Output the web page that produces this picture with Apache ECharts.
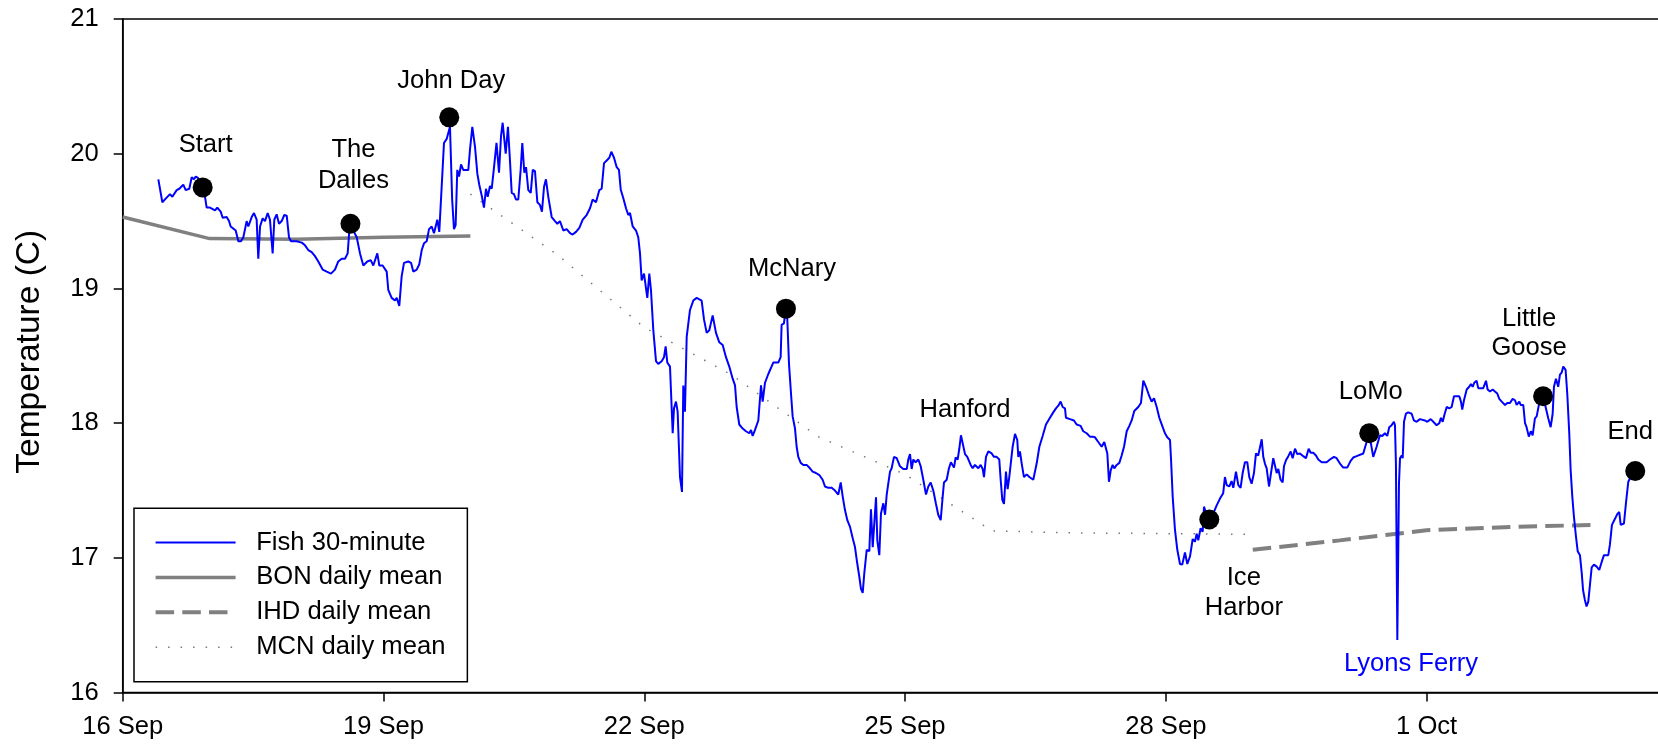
<!DOCTYPE html>
<html><head><meta charset="utf-8">
<script src="https://cdn.jsdelivr.net/npm/echarts@6/dist/echarts.min.js"></script>
<style>html,body{margin:0;padding:0;background:#fff}#c{width:1658px;height:748px}</style>
</head><body><div id="c"></div><script>
// x values are days after 16 Sep 00:00
const tickLabels = ['16 Sep', '19 Sep', '22 Sep', '25 Sep', '28 Sep', '1 Oct'];

const fishSeries = [
[0.41,19.81],[0.456,19.64],[0.50,19.67],[0.544,19.70],[0.571,19.68],[0.621,19.73],[0.651,19.74],[0.697,19.77],[0.725,19.73],[0.766,19.74],[0.794,19.825],[0.82,19.81],[0.84,19.83],[0.866,19.82],[0.935,19.73],[0.966,19.60],[1.004,19.60],[1.062,19.58],[1.088,19.60],[1.127,19.57],[1.15,19.525],[1.196,19.53],[1.223,19.50],[1.242,19.46],[1.265,19.47],[1.30,19.43],[1.33,19.35],[1.361,19.35],[1.388,19.38],[1.426,19.50],[1.445,19.46],[1.484,19.53],[1.51,19.56],[1.541,19.51],[1.56,19.22],[1.58,19.46],[1.61,19.52],[1.637,19.50],[1.668,19.56],[1.694,19.51],[1.725,19.26],[1.744,19.51],[1.771,19.55],[1.798,19.48],[1.829,19.50],[1.859,19.545],[1.887,19.54],[1.913,19.38],[1.936,19.35],[2.0,19.35],[2.06,19.34],[2.097,19.32],[2.135,19.285],[2.174,19.27],[2.212,19.24],[2.25,19.20],[2.30,19.14],[2.347,19.125],[2.396,19.11],[2.442,19.14],[2.48,19.20],[2.519,19.22],[2.557,19.22],[2.588,19.26],[2.607,19.43],[2.661,19.42],[2.692,19.38],[2.73,19.26],[2.768,19.17],[2.814,19.20],[2.853,19.21],[2.883,19.17],[2.929,19.26],[2.952,19.17],[2.99,19.17],[3.037,19.125],[3.055,18.99],[3.094,18.93],[3.132,18.91],[3.152,18.93],[3.182,18.87],[3.209,19.09],[3.236,19.19],[3.285,19.20],[3.317,19.19],[3.343,19.125],[3.382,19.14],[3.412,19.18],[3.44,19.285],[3.466,19.335],[3.497,19.35],[3.524,19.44],[3.555,19.46],[3.581,19.41],[3.60,19.46],[3.619,19.51],[3.642,19.42],
[3.696,20.08],[3.727,20.11],[3.765,20.20],[3.79,19.66],[3.811,19.44],[3.83,19.47],[3.849,19.88],[3.869,19.83],[3.892,19.92],[3.918,19.88],[3.976,19.88],[3.995,20.03],[4.022,20.20],[4.053,20.05],[4.08,19.85],[4.102,19.77],[4.13,19.69],[4.156,19.60],[4.179,19.74],[4.199,19.68],[4.225,19.76],[4.245,19.74],[4.27,19.89],[4.30,20.08],[4.329,19.86],[4.352,20.13],[4.371,20.23],[4.406,20.00],[4.432,20.20],[4.455,19.95],[4.475,19.71],[4.501,19.70],[4.524,19.66],[4.551,19.66],[4.578,19.88],[4.597,20.08],[4.62,19.86],[4.64,19.90],[4.666,19.73],[4.694,19.71],[4.717,19.88],[4.743,19.87],[4.77,19.64],[4.80,19.62],[4.823,19.57],[4.847,19.755],[4.869,19.81],[4.896,19.68],[4.935,19.53],[4.973,19.50],[5.0,19.48],[5.03,19.50],[5.069,19.43],[5.107,19.44],[5.146,19.41],[5.176,19.40],[5.215,19.42],[5.253,19.45],[5.292,19.51],[5.337,19.545],[5.376,19.595],[5.406,19.66],[5.445,19.64],[5.483,19.73],[5.51,19.74],[5.537,19.93],[5.568,19.95],[5.598,19.97],[5.621,20.015],[5.652,19.97],[5.683,19.90],[5.709,19.88],[5.729,19.735],[5.759,19.67],[5.79,19.595],[5.816,19.545],[5.836,19.56],[5.867,19.46],[5.905,19.43],[5.931,19.38],[5.951,19.26],[5.97,19.06],[5.997,19.11],[6.02,19.11],[6.035,18.93],[6.058,19.11],[6.077,18.99],[6.104,18.69],[6.135,18.46],[6.161,18.44],[6.20,18.46],[6.227,18.49],[6.246,18.57],[6.265,18.45],[6.296,18.42],[6.327,17.925],[6.342,18.11],[6.365,18.16],[6.384,18.085],[6.411,17.60],[6.434,17.49],[6.449,18.28],[6.468,18.085],[6.488,18.64],[6.526,18.84],[6.564,18.91],[6.603,18.93],[6.66,18.91],[6.687,18.77],[6.718,18.67],[6.748,18.69],[6.787,18.80],[6.825,18.67],[6.863,18.60],[6.902,18.58],[6.94,18.49],[6.978,18.42],[7.017,18.33],[7.044,18.28],[7.063,18.12],[7.093,17.99],[7.132,17.96],[7.17,17.94],[7.208,17.925],[7.228,17.95],[7.247,17.905],[7.274,17.95],[7.312,18.02],[7.343,18.28],[7.362,18.16],[7.389,18.30],[7.427,18.365],
[7.484,18.45],[7.542,18.45],[7.569,18.49],[7.58,18.73],[7.607,18.74],[7.622,18.82],[7.645,18.78],[7.665,18.44],[7.688,18.22],[7.707,18.05],[7.734,17.96],[7.753,17.825],[7.772,17.75],[7.80,17.705],[7.83,17.69],[7.868,17.69],[7.906,17.665],[7.937,17.64],[7.975,17.63],[8.014,17.615],[8.052,17.58],[8.079,17.53],[8.117,17.52],[8.156,17.52],[8.194,17.50],[8.232,17.47],[8.26,17.56],[8.283,17.455],[8.309,17.355],[8.336,17.28],[8.367,17.23],[8.398,17.145],[8.424,17.08],[8.45,16.96],[8.474,16.86],[8.493,16.77],[8.513,16.74],[8.531,16.885],[8.559,17.06],[8.589,17.05],[8.608,17.36],[8.628,17.08],[8.646,17.08],[8.666,17.45],[8.681,17.13],[8.704,17.02],[8.723,17.33],[8.75,17.405],[8.77,17.32],[8.789,17.47],[8.807,17.47],[8.827,17.64],[8.846,17.665],[8.873,17.75],[8.904,17.74],[8.942,17.68],[8.98,17.66],[9.02,17.66],[9.037,17.73],[9.057,17.77],[9.076,17.66],[9.095,17.73],[9.122,17.71],[9.153,17.73],[9.18,17.68],[9.21,17.58],[9.241,17.47],[9.268,17.53],[9.295,17.56],[9.325,17.50],[9.356,17.40],[9.382,17.32],[9.41,17.28],[9.433,17.455],[9.448,17.56],[9.479,17.58],[9.505,17.665],[9.528,17.71],[9.548,17.70],[9.563,17.67],[9.582,17.745],[9.605,17.73],[9.624,17.81],[9.643,17.91],[9.663,17.91],[9.69,17.77],[9.716,17.75],[9.735,17.76],[9.755,17.69],[9.778,17.665],[9.804,17.69],[9.843,17.665],[9.87,17.69],[9.893,17.66],[9.908,17.60],[9.931,17.75],[9.958,17.79],[9.997,17.775],[10.023,17.75],[10.054,17.75],[10.084,17.73],[10.10,17.58],[10.119,17.43],[10.138,17.40],[10.161,17.64],[10.18,17.51],[10.199,17.60],[10.218,17.71],[10.238,17.825],[10.265,17.92],[10.291,17.875],[10.303,17.75],[10.322,17.79],[10.342,17.70],[10.368,17.60],[10.399,17.62],[10.43,17.60],[10.475,17.58],[10.495,17.58],[10.514,17.70],[10.545,17.825],[10.583,17.905],[10.621,17.99],[10.667,18.04],[10.705,18.08],[10.736,18.11],[10.763,18.13],[10.79,18.16],[10.813,18.12],[10.84,18.11],[10.851,18.04],[10.897,18.03],[10.943,18.02],[10.974,17.99],[11.02,17.98],[11.05,17.94],[11.089,17.925],[11.127,17.90],[11.158,17.90],[11.185,17.895],[11.223,17.86],[11.262,17.825],[11.292,17.86],[11.311,17.85],[11.327,17.775],[11.346,17.565],[11.366,17.65],[11.388,17.69],[11.407,17.665],[11.435,17.69],[11.465,17.705],[11.492,17.76],[11.519,17.825],[11.55,17.94],[11.58,17.98],
[11.607,18.02],[11.637,18.09],[11.683,18.12],[11.714,18.15],[11.741,18.315],[11.772,18.27],[11.81,18.20],[11.837,18.16],[11.864,18.185],[11.895,18.12],[11.925,18.04],[11.964,17.97],[11.99,17.925],[12.017,17.895],[12.048,17.875],[12.06,17.73],[12.079,17.455],[12.105,17.21],[12.132,17.06],[12.163,16.955],[12.189,16.95],[12.22,17.04],[12.247,16.955],[12.278,17.01],[12.309,17.14],[12.335,17.12],[12.355,17.18],[12.373,17.13],[12.40,17.22],[12.424,17.195],[12.439,17.38],[12.462,17.335],[12.50,17.29],[12.546,17.33],[12.585,17.39],[12.623,17.44],[12.66,17.48],[12.68,17.60],[12.70,17.54],[12.73,17.53],[12.757,17.57],[12.776,17.52],[12.807,17.64],[12.834,17.54],[12.86,17.52],[12.884,17.63],[12.91,17.71],[12.937,17.71],[12.96,17.60],[12.987,17.55],[13.014,17.63],[13.037,17.775],[13.063,17.76],[13.083,17.82],[13.103,17.88],[13.121,17.75],[13.14,17.70],[13.16,17.665],[13.187,17.53],[13.21,17.63],[13.236,17.74],[13.256,17.75],[13.275,17.63],[13.294,17.66],[13.32,17.58],[13.344,17.56],[13.359,17.68],[13.382,17.725],[13.409,17.755],[13.436,17.79],[13.459,17.74],[13.486,17.81],[13.512,17.77],[13.543,17.775],[13.581,17.755],[13.612,17.74],[13.643,17.81],[13.666,17.78],[13.696,17.78],[13.727,17.76],[13.754,17.73],[13.793,17.71],[13.85,17.71],[13.888,17.73],[13.934,17.75],[13.965,17.74],[14.003,17.70],[14.041,17.67],[14.087,17.67],[14.126,17.72],[14.156,17.745],[14.195,17.755],[14.214,17.76],[14.271,17.775],[14.31,17.86],[14.34,17.92],[14.386,17.75],[14.425,17.825],[14.463,17.91],[14.49,17.905],[14.52,17.925],[14.547,17.905],[14.57,17.97],[14.598,17.985],[14.624,18.01],[14.636,17.985],[14.647,17.70],[14.663,16.39],[14.682,17.55],[14.694,17.74],[14.713,17.76],[14.725,17.74],
[14.74,18.01],[14.762,18.07],[14.789,18.08],[14.828,18.07],[14.854,18.02],[14.885,18.01],[14.923,18.03],[14.98,18.02],[15.008,18.01],[15.047,18.03],[15.077,18.01],[15.115,17.985],[15.146,18.00],[15.165,18.04],[15.185,18.01],[15.204,18.06],[15.231,18.12],[15.261,18.11],[15.288,18.12],[15.315,18.20],[15.338,18.21],[15.376,18.20],[15.395,18.16],[15.41,18.10],[15.43,18.17],[15.461,18.25],[15.49,18.27],[15.51,18.29],[15.53,18.27],[15.548,18.30],[15.575,18.315],[15.594,18.26],[15.621,18.26],[15.652,18.26],[15.683,18.315],[15.702,18.25],[15.729,18.235],[15.76,18.25],[15.786,18.235],[15.813,18.22],[15.836,18.18],[15.864,18.16],[15.902,18.135],[15.928,18.15],[15.959,18.15],[15.99,18.18],[16.017,18.17],[16.036,18.135],[16.066,18.16],[16.082,18.135],[16.112,18.135],[16.132,18.00],[16.15,17.97],[16.176,17.90],[16.199,17.94],[16.22,17.91],[16.246,18.035],[16.266,18.05],[16.296,18.15],[16.34,18.20],[16.40,18.035],[16.427,17.97],[16.45,18.07],[16.465,18.27],[16.488,18.33],[16.514,18.27],[16.534,18.36],[16.553,18.375],[16.572,18.42],[16.599,18.395],[16.618,18.22],[16.641,17.925],[16.657,17.65],[16.676,17.455],[16.695,17.305],[16.718,17.16],[16.738,17.05],[16.764,17.02],[16.784,16.89],[16.80,16.76],[16.82,16.69],[16.84,16.64],[16.86,16.675],[16.879,16.80],[16.899,16.93],[16.925,16.95],[16.956,16.935],[16.986,16.91],[17.014,16.97],[17.04,17.02],[17.09,17.02],[17.109,17.10],[17.132,17.245],[17.167,17.29],[17.193,17.325],[17.216,17.34],[17.233,17.245],[17.27,17.255],[17.293,17.405],[17.32,17.565],[17.359,17.615],[17.40,17.645]
];

const bonDaily = [[0, 19.53], [1, 19.37], [2, 19.365], [3, 19.38], [4, 19.39]];
const mcnDaily = [[4, 19.70], [5, 19.25], [6, 18.71], [7, 18.36], [8, 17.90], [9, 17.62], [10, 17.20], [11, 17.185], [12, 17.18], [13, 17.175]];
const ihdDaily = [[13, 17.06], [14, 17.13], [15, 17.205], [16, 17.23], [16.92, 17.245]];

const stationNames = ['Start', 'The Dalles', 'John Day', 'McNary', 'Ice Harbor', 'LoMo', 'Little Goose', 'End'];
const stationDays = [0.92, 2.62, 3.757, 7.63, 12.50, 14.34, 16.34, 17.40];
const stationTemps = [19.75, 19.48, 20.27, 18.85, 17.285, 17.925, 18.20, 17.645];

const noteNames = ['Hanford', 'Lyons Ferry'];
const noteDays = [9.69, 14.82];
const noteTemps = [18.10, 16.215];

// ---- styling ----
const FONT = "'Liberation Sans', Arial, Helvetica, sans-serif";
const FS = 25.6;
const labelLayout = {
  'Start': { offset: [3, -42] },
  'The Dalles': { offset: [3, -58], text: 'The\nDalles', lh: 31 },
  'John Day': { offset: [2, -36] },
  'McNary': { offset: [6, -40] },
  'Ice Harbor': { offset: [34.5, 73], text: 'Ice\nHarbor', lh: 30 },
  'LoMo': { offset: [1.5, -41] },
  'Little Goose': { offset: [-14, -63], text: 'Little\nGoose', lh: 29.3 },
  'End': { offset: [-5, -39] }
};
const noteColors = { 'Hanford': '#000000', 'Lyons Ferry': '#0000FF' };

const stationItems = stationNames.map((n, i) => ({
  name: n,
  value: [stationDays[i], stationTemps[i]],
  label: { offset: labelLayout[n].offset, lineHeight: labelLayout[n].lh || FS }
}));
const noteItems = noteNames.map((n, i) => ({
  name: n,
  value: [noteDays[i], noteTemps[i]],
  label: { color: noteColors[n] }
}));

const chart = echarts.init(document.getElementById('c'), null, { renderer: 'canvas' });
chart.setOption({
  animation: false,
  backgroundColor: '#ffffff',
  textStyle: { fontFamily: FONT },
  grid: {
    left: 122.7, right: -40, top: 19, bottom: 55.4,
    show: true, borderColor: '#000', borderWidth: 1.5, backgroundColor: 'transparent',
    containLabel: false, outerBoundsMode: 'none'
  },
  legend: {
    data: ['Fish 30-minute', 'BON daily mean', 'IHD daily mean', 'MCN daily mean'],
    orient: 'vertical', left: 134, top: 508.3,
    padding: [21.2, 22, 21.5, 19.6],
    borderColor: '#000', borderWidth: 1.5, backgroundColor: '#fff',
    itemWidth: 80, itemHeight: 14, itemGap: 8.9,
    selectedMode: false,
    itemStyle: { opacity: 0 },
    lineStyle: { width: 'inherit', type: 'inherit', color: 'inherit' },
    textStyle: { fontSize: FS, color: '#000', fontFamily: FONT, lineHeight: FS, padding: [0, 0, 0, 15.6] }
  },
  xAxis: {
    type: 'value', min: 0, max: 18.122, interval: 3,
    axisLine: { show: true, lineStyle: { color: '#000', width: 1.5 } },
    axisTick: { show: true, length: 9, lineStyle: { color: '#000', width: 1.5 } },
    axisLabel: {
      fontSize: FS, color: '#000', fontFamily: FONT, margin: 21,
      formatter: v => { const k = Math.round(v / 3); return Math.abs(v - k * 3) < 1e-6 && tickLabels[k] ? tickLabels[k] : ''; }
    },
    splitLine: { show: false }
  },
  yAxis: {
    type: 'value', min: 16, max: 21, interval: 1,
    name: 'Temperature (C)', nameLocation: 'middle', nameGap: 76,
    nameTextStyle: { fontSize: 33.5, color: '#000', fontFamily: FONT, padding: [0, 0, 0, 8] },
    axisLine: { show: true, lineStyle: { color: '#000', width: 1.5 } },
    axisTick: { show: true, length: 9, lineStyle: { color: '#000', width: 1.5 } },
    axisLabel: { fontSize: FS, color: '#000', fontFamily: FONT, margin: 24 },
    splitLine: { show: false }
  },
  series: [
    { name: 'MCN daily mean', type: 'line', data: mcnDaily, symbol: 'none', z: 2,
      lineStyle: { color: '#777', width: 1.5, type: [1.5, 11] }, itemStyle: { color: '#777' } },
    { name: 'BON daily mean', type: 'line', data: bonDaily, symbol: 'none', z: 2,
      lineStyle: { color: '#808080', width: 3.5 }, itemStyle: { color: '#808080' } },
    { name: 'IHD daily mean', type: 'line', data: ihdDaily, symbol: 'none', z: 2,
      lineStyle: { color: '#808080', width: 4, type: [18.5, 8.2] }, itemStyle: { color: '#808080' } },
    { name: 'Fish 30-minute', type: 'line', data: fishSeries, symbol: 'none', z: 3,
      lineStyle: { color: '#0000FF', width: 2 }, itemStyle: { color: '#0000FF' } },
    { name: 'Stations', type: 'scatter', data: stationItems, symbol: 'circle', symbolSize: 20, z: 5,
      itemStyle: { color: '#000', opacity: 1 },
      label: { show: true, position: 'inside', color: '#000', fontSize: FS, fontFamily: FONT,
        formatter: p => labelLayout[p.name].text || p.name } },
    { name: 'Notes', type: 'scatter', data: noteItems, symbol: 'circle', symbolSize: 0.1, z: 5,
      itemStyle: { color: 'rgba(0,0,0,0)', opacity: 1 },
      label: { show: true, position: 'inside', fontSize: FS, fontFamily: FONT, formatter: p => p.name } }
  ]
});
</script></body></html>
